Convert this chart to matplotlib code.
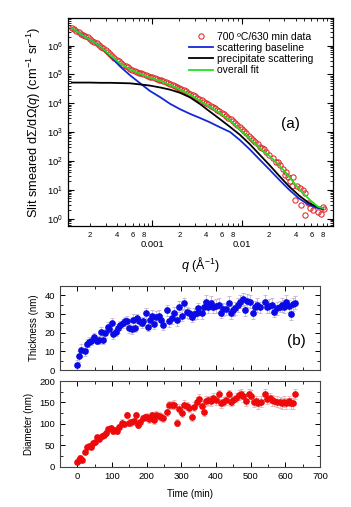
import matplotlib
matplotlib.use('Agg')
import matplotlib.pyplot as plt
from matplotlib.ticker import MultipleLocator, LogLocator, NullFormatter

plt.rcParams['font.family'] = ['Liberation Sans', 'DejaVu Sans']
plt.rcParams['mathtext.fontset'] = 'custom'
plt.rcParams['mathtext.rm'] = 'Liberation Sans'
plt.rcParams['mathtext.it'] = 'Liberation Sans:italic'

# ---- panel (a): SANS curves ----
q_fit = [1.26e-4, 1.58e-4, 2.0e-4, 2.63e-4, 3.39e-4, 4.37e-4, 5.62e-4, 7.24e-4, 9.33e-4,
         1.23e-3, 1.58e-3, 2.04e-3, 2.63e-3, 3.39e-3, 4.37e-3, 5.62e-3, 7.41e-3, 9.55e-3,
         1.23e-2, 1.58e-2, 2.04e-2, 2.63e-2, 3.39e-2, 4.37e-2, 5.62e-2, 7.08e-2, 8.13e-2]
I_fit = [4.0e6, 2.5e6, 1.6e6, 9.3e5, 4.5e5, 2.4e5, 1.5e5, 1.05e5, 7.8e4, 5.9e4, 4.3e4, 3.0e4,
         2.0e4, 1.23e4, 7.6e3, 4.7e3, 2.5e3, 1.2e3, 600, 280, 150, 71, 28, 10.5, 4.8, 2.6, 2.3]
I_base = [4.0e6, 2.5e6, 1.6e6, 9.3e5, 4.2e5, 1.86e5, 9.3e4, 5.0e4, 2.7e4, 1.6e4, 9.5e3, 6.2e3,
          4.3e3, 3.1e3, 2.2e3, 1.5e3, 1000, 525, 250, 112, 50, 22, 10, 5.0, 3.0, 2.3, 2.15]
I_prec = [5.2e4, 5.2e4, 5.2e4, 5.1e4, 5.1e4, 5.0e4, 4.9e4, 4.5e4, 4.1e4, 3.5e4, 2.95e4, 2.3e4,
          1.6e4, 9.5e3, 5.2e3, 2.9e3, 1.5e3, 800, 380, 166, 72, 30, 13, 6.3, 3.5, 2.5, 2.3]

q_data = [1.26e-4, 1.41e-4, 1.58e-4, 1.78e-4, 2.0e-4, 2.24e-4, 2.51e-4, 2.82e-4, 3.16e-4, 3.55e-4,
          3.98e-4, 4.47e-4, 5.01e-4, 5.62e-4, 6.31e-4, 7.08e-4, 7.94e-4, 8.91e-4, 1.0e-3, 1.12e-3,
          1.26e-3, 1.41e-3, 1.58e-3, 1.78e-3, 2.0e-3, 2.24e-3, 2.51e-3, 2.82e-3, 3.16e-3, 3.55e-3,
          3.98e-3, 4.47e-3, 5.01e-3, 5.62e-3, 6.31e-3, 7.08e-3, 7.94e-3, 8.91e-3, 1.0e-2, 1.12e-2,
          1.26e-2, 1.41e-2, 1.58e-2, 1.78e-2, 2.0e-2,
          1.33e-4, 1.50e-4, 1.68e-4, 1.88e-4, 2.11e-4, 2.37e-4, 2.66e-4, 2.99e-4, 3.35e-4, 3.76e-4,
          4.22e-4, 4.73e-4, 5.31e-4, 5.96e-4, 6.68e-4, 7.50e-4, 8.41e-4, 9.44e-4, 1.06e-3, 1.19e-3,
          1.33e-3, 1.50e-3, 1.68e-3, 1.88e-3, 2.11e-3, 2.37e-3, 2.66e-3, 2.99e-3, 3.35e-3, 3.76e-3,
          4.22e-3, 4.73e-3, 5.31e-3, 5.96e-3, 6.68e-3, 7.50e-3, 8.41e-3, 9.44e-3, 1.06e-2, 1.19e-2,
          1.33e-2, 1.50e-2, 1.68e-2, 1.88e-2,
          0.0224, 0.0240, 0.0254, 0.0269, 0.0288, 0.0302, 0.0315, 0.0331, 0.0343, 0.0363,
          0.0373, 0.0390, 0.0417, 0.0444, 0.0463, 0.0483, 0.0504, 0.0512, 0.0548, 0.0573,
          0.0624, 0.0710, 0.0773, 0.0805, 0.0841]
I_data = [4.2e6, 3.3e6, 2.6e6, 2.1e6, 1.66e6, 1.32e6, 1.07e6, 8.1e5, 5.9e5, 4.3e5,
          3.2e5, 2.45e5, 1.95e5, 1.58e5, 1.35e5, 1.15e5, 1.0e5, 8.7e4, 7.8e4, 6.9e4,
          6.2e4, 5.4e4, 4.6e4, 4.0e4, 3.4e4, 2.8e4, 2.35e4, 1.9e4, 1.55e4, 1.26e4,
          1.02e4, 8.1e3, 6.6e3, 5.2e3, 4.1e3, 3.2e3, 2.35e3, 1.7e3, 1.23e3, 910,
          630, 460, 300, 250, 165,
          3.8e6, 2.9e6, 2.3e6, 1.9e6, 1.46e6, 1.2e6, 9.2e5, 7.0e5, 5.0e5, 3.7e5,
          2.8e5, 2.2e5, 1.75e5, 1.47e5, 1.24e5, 1.08e5, 9.3e4, 8.3e4, 7.3e4, 6.6e4,
          5.8e4, 5.0e4, 4.3e4, 3.7e4, 3.1e4, 2.6e4, 2.1e4, 1.72e4, 1.4e4, 1.14e4,
          9.1e3, 7.3e3, 5.9e3, 4.6e3, 3.6e3, 2.8e3, 2.0e3, 1.45e3, 1.06e3, 760,
          540, 380, 275, 200,
          126, 95, 91, 71, 52, 32, 40, 28, 20, 13,
          27, 4.6, 14, 11.7, 3.0, 10.2, 7.8, 1.3, 3.5, 2.3,
          2.0, 1.7, 1.5, 2.5, 2.1]

# ---- panel (b): kinetics ----
t_thick = [0, 6, 11, 22, 29, 35, 39, 48, 56, 62, 68, 74, 80, 87, 92, 99, 104, 111, 118, 123,
           131, 137, 144, 150, 157, 161, 167, 171, 179, 186, 190, 198, 205, 210, 214, 221, 227,
           234, 240, 246, 258, 265, 272, 279, 287, 294, 301, 308, 315, 323, 330, 337, 344, 349,
           359, 365, 371, 378, 385, 392, 400, 407, 413, 421, 429, 436, 442, 448, 455, 462, 469,
           477, 484, 490, 498, 506, 512, 519, 527, 541, 546, 554, 561, 567, 575, 583, 590, 596,
           602, 609, 615, 621, 628]
thickness = [2.7, 7.3, 10.7, 10.2, 14, 15, 15.5, 17.5, 15.7, 16.2, 20.5, 16, 19.6, 23, 22, 25,
             19.3, 20.5, 22.3, 24, 25, 26, 26.4, 22.3, 21.8, 26.8, 22.7, 27.7, 26, 25, 26, 30.4,
             23.2, 26.8, 29, 24.6, 28.6, 29, 26.8, 24, 32, 26, 27.7, 30.4, 26.8, 34, 29, 35.7,
             31, 30.4, 28.6, 30, 30.7, 33, 30.4, 33.6, 36.6, 33.6, 36, 34, 34.3, 34.8, 30.7,
             32.5, 32.5, 36, 30.7, 32, 33, 34.8, 36.6, 37.9, 32, 37, 36.6, 30.4, 33.6, 34.8,
             33.6, 36.6, 33.6, 34.3, 34.8, 31.2, 33, 33.9, 34.8, 33.9, 36.6, 34.3, 30, 35.3, 36]
thick_err = [2.5, 3.0, 3.5, 2.5, 2.5, 2.5, 2.0, 2.5, 2.0, 2.0, 2.5, 2.0, 2.5, 2.5, 2.0, 3.0,
             2.5, 2.0, 2.5, 2.5, 2.5, 2.5, 2.5, 2.5, 2.5, 3.0, 2.5, 2.5, 2.5, 2.5, 2.5, 3.0,
             2.5, 3.0, 3.0, 2.5, 3.0, 3.0, 2.5, 2.5, 3.0, 3.0, 3.0, 3.5, 3.0, 3.0, 3.0, 3.0,
             3.0, 3.0, 3.0, 3.0, 3.5, 3.0, 3.0, 3.5, 3.5, 3.0, 3.5, 3.5, 3.5, 3.5, 3.0, 3.5,
             3.0, 3.5, 3.5, 3.0, 3.5, 3.5, 3.5, 3.5, 3.0, 3.5, 3.5, 3.0, 3.5, 3.5, 3.0, 3.5,
             3.0, 3.5, 3.5, 3.0, 3.5, 3.0, 3.5, 3.5, 3.5, 3.0, 3.0, 3.5, 3.5]

t_diam = [0, 4, 8, 13, 22, 29, 35, 39, 46, 52, 58, 63, 70, 77, 83, 89, 96, 102, 109, 115, 121,
          128, 135, 142, 148, 154, 162, 169, 175, 181, 188, 195, 202, 208, 214, 221, 227, 234,
          240, 246, 258, 265, 272, 279, 287, 293, 301, 308, 315, 323, 330, 337, 344, 351, 359,
          365, 371, 378, 385, 392, 400, 407, 413, 421, 429, 437, 442, 450, 458, 465, 471, 479,
          487, 494, 500, 508, 515, 522, 529, 541, 548, 556, 561, 567, 575, 583, 590, 596, 602,
          609, 615, 621, 629]
diameter = [11, 17, 21, 16, 35, 47, 49, 47, 55, 58, 69, 66, 71, 74, 80, 88, 90, 84, 87, 84,
            92, 103, 100, 121, 103, 104, 106, 120, 98, 104, 114, 116, 116, 112, 120, 110, 121,
            118, 116, 114, 129, 144, 144, 145, 103, 136, 126, 145, 142, 137, 116, 140, 152, 158,
            142, 129, 153, 155, 153, 161, 155, 169, 148, 152, 155, 169, 152, 155, 161, 167, 169,
            164, 153, 169, 166, 152, 153, 148, 152, 169, 159, 161, 155, 153, 152, 150, 148, 152,
            148, 153, 148, 148, 169]
diam_err = [5, 6, 6, 5, 5, 5, 5, 5, 5, 5, 6, 6, 6, 6, 6, 7, 7, 7, 7, 7,
            7, 8, 8, 8, 8, 8, 8, 8, 8, 8, 8, 8, 9, 9, 9, 9, 9, 9, 9, 9,
            10, 10, 10, 10, 8, 10, 10, 10, 10, 10, 10, 10, 11, 11, 11, 10, 11, 11, 11, 11,
            11, 11, 11, 11, 11, 11, 11, 11, 11, 12, 12, 12, 12, 12, 12, 12, 12, 12, 12, 12,
            12, 12, 12, 12, 12, 12, 12, 12, 12, 12, 12, 12, 12]

fig = plt.figure(figsize=(3.51, 5.07), dpi=100)

# ---------- (a) ----------
ax = fig.add_axes([0.194, 0.554, 0.755, 0.4105])
ax.plot(q_data, I_data, 'o', mfc='none', mec='#e02828', ms=3.8, mew=0.75,
        label='700 ºC/630 min data', zorder=2)
ax.plot(q_fit, I_base, color='#1428d8', lw=1.3, label='scattering baseline', zorder=3)
ax.plot(q_fit, I_prec, color='black', lw=1.3, label='precipitate scattering', zorder=3)
ax.plot(q_fit, I_fit, color='#22e022', lw=1.3, label='overall fit', zorder=4)
ax.set_xscale('log')
ax.set_yscale('log')
ax.set_xlim(1.14e-4, 0.105)
ax.set_ylim(0.55, 9e6)

ax.set_xticks([1e-3, 1e-2])
ax.set_xticklabels(['0.001', '0.01'])
minor_pos = []
minor_lab = []
for dec in [1e-4, 1e-3, 1e-2]:
    for k in range(2, 10):
        minor_pos.append(k * dec)
        minor_lab.append(str(k) if k in (2, 4, 6, 8) else '')
ax.set_xticks(minor_pos, minor=True)
ax.set_xticklabels(minor_lab, minor=True, fontsize=5.5)
ax.tick_params(axis='x', which='major', labelsize=6.8, pad=10)
ax.tick_params(axis='x', which='minor', pad=4)

ax.set_yticks([10.0 ** k for k in range(0, 7)])
ax.set_yticklabels([r'10$^{%d}$' % k for k in range(0, 7)])
ax.yaxis.set_minor_locator(LogLocator(base=10, subs=range(2, 10), numticks=20))
ax.yaxis.set_minor_formatter(NullFormatter())
ax.tick_params(axis='y', which='major', labelsize=6.8)
ax.tick_params(which='both', direction='in', top=True, right=True)
ax.tick_params(which='major', length=4, width=0.8)
ax.tick_params(which='minor', length=2, width=0.6)
for s in ax.spines.values():
    s.set_linewidth(0.9)

ax.set_ylabel(r'Slit smeared dΣ/dΩ($q$) (cm$^{-1}$ sr$^{-1}$)', fontsize=9.2, labelpad=3)
ax.set_xlabel(r'$q$ (Å$^{-1}$)', fontsize=9, labelpad=4)
ax.text(0.84, 0.49, '(a)', transform=ax.transAxes, fontsize=11, ha='center', va='center')

ax.legend(loc='upper left', bbox_to_anchor=(0.455, 0.935), frameon=False, fontsize=7.5,
          numpoints=1, handlelength=2.3, handletextpad=0.4, labelspacing=0.12,
          borderpad=0, borderaxespad=0)

# ---------- (b) thickness ----------
axt = fig.add_axes([0.171, 0.270, 0.741, 0.166])
axt.errorbar(t_thick, thickness, yerr=thick_err, fmt='o', color='#0a0ae6', ms=3.8,
             ecolor='#c4b4cc', elinewidth=0.6, capsize=1.5, capthick=0.6)
axt.set_xlim(-50, 700)
axt.set_ylim(0, 45)
axt.xaxis.set_major_locator(MultipleLocator(100))
axt.xaxis.set_minor_locator(MultipleLocator(50))
axt.yaxis.set_major_locator(MultipleLocator(10))
axt.yaxis.set_minor_locator(MultipleLocator(5))
axt.tick_params(axis='x', labelbottom=False)
axt.set_ylabel('Thickness (nm)', fontsize=7, labelpad=4)
axt.text(0.908, 0.34, '(b)', transform=axt.transAxes, fontsize=11, ha='center', va='center')

# ---------- (b) diameter ----------
axd = fig.add_axes([0.171, 0.079, 0.741, 0.1695])
axd.errorbar(t_diam, diameter, yerr=diam_err, fmt='o', color='#ee0a0a', ms=3.8,
             ecolor='#e4b0b4', elinewidth=0.6, capsize=1.5, capthick=0.6)
axd.set_xlim(-50, 700)
axd.set_ylim(0, 200)
axd.xaxis.set_major_locator(MultipleLocator(100))
axd.xaxis.set_minor_locator(MultipleLocator(50))
axd.yaxis.set_major_locator(MultipleLocator(50))
axd.yaxis.set_minor_locator(MultipleLocator(25))
axd.set_ylabel('Diameter (nm)', fontsize=7, labelpad=4)
axd.set_xlabel('Time (min)', fontsize=7, labelpad=6)

for a in (axt, axd):
    a.tick_params(which='both', direction='in', top=True, right=True, labelsize=6.8)
    a.tick_params(which='major', length=3.5, width=0.7)
    a.tick_params(which='minor', length=2, width=0.6)
    for s in a.spines.values():
        s.set_linewidth(0.8)
        s.set_color('#444444')

fig.savefig('out.png', dpi=100)
